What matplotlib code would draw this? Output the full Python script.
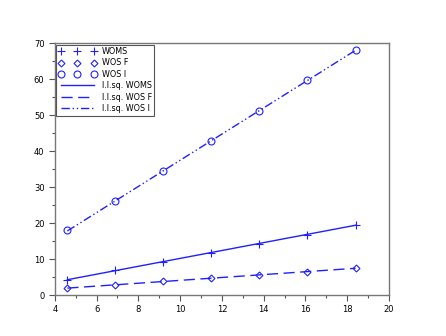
import matplotlib
matplotlib.use("Agg")
import matplotlib.pyplot as plt
import numpy as np
from matplotlib.ticker import MultipleLocator

# data
x = np.array([4.6, 6.9, 9.2, 11.5, 13.8, 16.1, 18.4])
woms = np.array([4.2, 6.9, 9.3, 11.8, 14.2, 16.8, 19.5])
wos_f = np.array([1.9, 2.8, 3.8, 4.7, 5.6, 6.5, 7.4])
wos_i = np.array([18.0, 26.0, 34.5, 42.8, 51.2, 59.7, 68.0])

col = "#2020ff"

fig = plt.figure(figsize=(4.46, 3.36), dpi=100)
ax = fig.add_axes([0.123, 0.122, 0.749, 0.75])

ax.plot(x, woms, "+", color=col, ms=6, mew=0.8, ls="none", label="WOMS")
ax.plot(x, wos_f, "D", color=col, ms=3.5, mew=0.8, mfc="none", ls="none", label="WOS F")
ax.plot(x, wos_i, "o", color=col, ms=5, mew=0.8, mfc="none", ls="none", label="WOS I")

# least squares lines
for y, ls, lab in [(woms, "-", "l.l.sq. WOMS"),
                   (wos_f, (0, (8, 4)), "l.l.sq. WOS F"),
                   (wos_i, (0, (6, 2, 1, 2, 1, 2)), "l.l.sq. WOS I")]:
    p = np.polyfit(x, y, 1)
    ax.plot(x, np.polyval(p, x), color=col, lw=1, ls=ls, label=lab)

ax.set_xlim(4, 20)
ax.set_ylim(0, 70)
ax.xaxis.set_major_locator(MultipleLocator(2))
ax.xaxis.set_minor_locator(MultipleLocator(1))
ax.yaxis.set_major_locator(MultipleLocator(10))
ax.yaxis.set_minor_locator(MultipleLocator(5))
ax.tick_params(which="both", direction="out", labelsize=6, color="#555555", width=0.8)
ax.tick_params(which="major", length=4)
ax.tick_params(which="minor", length=2.5)
for s in ax.spines.values():
    s.set_color("#777777")
    s.set_linewidth(1)

leg = ax.legend(loc="upper left", numpoints=3, fontsize=5.8, fancybox=False,
                edgecolor="#555555", framealpha=1, handlelength=4.6,
                handletextpad=0.7, borderaxespad=0.2, borderpad=0.3,
                labelspacing=0.3)
leg.get_frame().set_linewidth(0.8)

fig.savefig("out.png", dpi=100)
